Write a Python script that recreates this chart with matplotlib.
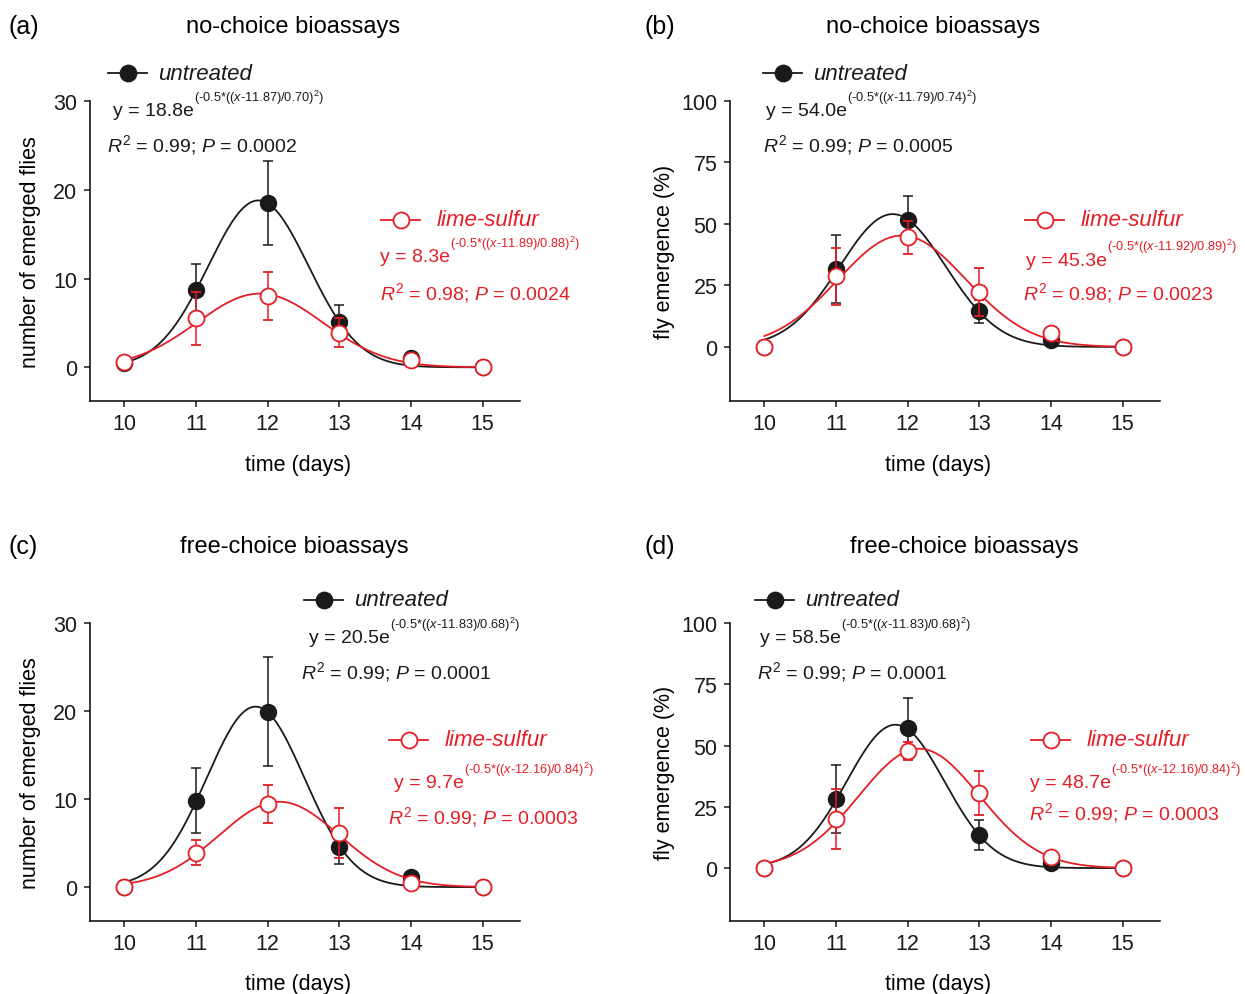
import numpy as np
import matplotlib
matplotlib.use('Agg')
import matplotlib.pyplot as plt
from matplotlib.lines import Line2D

plt.rcParams['font.family'] = ['Liberation Sans', 'DejaVu Sans']
plt.rcParams['mathtext.fontset'] = 'custom'
plt.rcParams['mathtext.rm'] = 'Liberation Sans'
plt.rcParams['mathtext.it'] = 'Liberation Sans:italic'
plt.rcParams['mathtext.bf'] = 'Liberation Sans:bold'

days = [10, 11, 12, 13, 14, 15]

# (a) no-choice, number of emerged flies
a_untr = [0.5, 8.7, 18.5, 5.1, 1.0, 0.0]
a_untr_err = [0, 2.9, 4.7, 1.9, 0, 0]
a_lime = [0.6, 5.5, 8.0, 3.9, 0.8, 0.0]
a_lime_err = [0, 3.0, 2.7, 1.6, 0, 0]
a_untr_fit = [18.8, 11.87, 0.70]
a_lime_fit = [8.3, 11.89, 0.88]
a_stats = ['0.99', '0.0002', '0.98', '0.0024']

# (b) no-choice, fly emergence (%)
b_untr = [0.0, 31.7, 51.8, 14.5, 2.8, 0.0]
b_untr_err = [0, 14.0, 9.7, 4.7, 0, 0]
b_lime = [0.0, 28.7, 44.6, 22.2, 5.6, 0.0]
b_lime_err = [0, 11.5, 6.7, 9.8, 0, 0]
b_untr_fit = [54.0, 11.79, 0.74]
b_lime_fit = [45.3, 11.92, 0.89]
b_stats = ['0.99', '0.0005', '0.98', '0.0023']

# (c) free-choice, number of emerged flies
c_untr = [0.0, 9.8, 19.9, 4.6, 1.1, 0.0]
c_untr_err = [0, 3.7, 6.2, 2.0, 0, 0]
c_lime = [0.0, 3.9, 9.4, 6.1, 0.5, 0.0]
c_lime_err = [0, 1.4, 2.15, 2.85, 0, 0]
c_untr_fit = [20.5, 11.83, 0.68]
c_lime_fit = [9.7, 12.16, 0.84]
c_stats = ['0.99', '0.0001', '0.99', '0.0003']

# (d) free-choice, fly emergence (%)
d_untr = [0.0, 28.2, 57.0, 13.6, 2.0, 0.0]
d_untr_err = [0, 14.0, 12.4, 6.2, 0, 0]
d_lime = [0.0, 20.0, 47.6, 30.7, 4.6, 0.0]
d_lime_err = [0, 12.3, 3.7, 9.0, 0, 0]
d_untr_fit = [58.5, 11.83, 0.68]
d_lime_fit = [48.7, 12.16, 0.84]
d_stats = ['0.99', '0.0001', '0.99', '0.0003']

BLACK = '#1a1a1a'
RED = '#e41e26'
W, H = 1245, 995

fig = plt.figure(figsize=(W / 100, H / 100), dpi=100)


def fx(x):
    return x / W


def fy(y):
    return 1 - y / H


def gauss(p, xs):
    return p[0] * np.exp(-0.5 * ((xs - p[1]) / p[2]) ** 2)


def legend_entry(x0, y, text, color, filled, gap=50):
    fc = color if filled else 'white'
    fig.add_artist(Line2D([fx(x0), fx(x0 + 19.5), fx(x0 + 39)], [fy(y)] * 3,
                          color=color, lw=1.3, marker='o', markevery=[1],
                          ms=11.5, mfc=fc, mec=color, mew=1.3))
    fig.text(fx(x0 + gap), fy(y), text, color=color, style='italic',
             fontsize=16, va='center', ha='left')


def equation(x, y, p, color):
    t = fig.text(fx(x), fy(y), 'y = %.1fe' % p[0], color=color, fontsize=14,
                 va='center', ha='left')
    sup = r'(-0.5*(($\mathit{x}$-%.2f)/%.2f)$^{2}$)' % (p[1], p[2])
    plt.annotate(sup, xy=(1, 0), xycoords=t, xytext=(0, 13),
                 textcoords='offset points', color=color, fontsize=9.2,
                 va='baseline', ha='left')


def stats_line(x, y, r2, pv, color):
    fig.text(fx(x), fy(y), r'$\mathit{R}^{2}$ = %s; $\mathit{P}$ = %s' % (r2, pv),
             color=color, fontsize=14, va='center', ha='left')


def panel(rect, untr, untr_err, lime, lime_err, untr_fit, lime_fit,
          yticks, ylim, ylabel, ylab_x):
    ax = fig.add_axes(rect)
    xs = np.linspace(10, 15, 300)
    ax.plot(xs, gauss(untr_fit, xs), color=BLACK, lw=1.3, zorder=2)
    ax.errorbar(days, untr, yerr=untr_err, fmt='o', color=BLACK, ms=11.5,
                mfc=BLACK, mec=BLACK, elinewidth=1.1, capsize=3.6,
                capthick=1.1, zorder=3)
    ax.plot(xs, gauss(lime_fit, xs), color=RED, lw=1.3, zorder=4)
    ax.errorbar(days, lime, yerr=lime_err, fmt='o', color=RED, ms=11.5,
                mfc='white', mec=RED, mew=1.3, elinewidth=1.1, capsize=3.6,
                capthick=1.1, zorder=5)
    ax.set_xlim(9.52, 15.52)
    ax.set_ylim(*ylim)
    ax.set_xticks(days)
    ax.set_yticks(yticks)
    for s in ['top', 'right']:
        ax.spines[s].set_visible(False)
    for s in ['left', 'bottom']:
        ax.spines[s].set_linewidth(1.1)
    ax.spines['left'].set_bounds(ylim[0], yticks[-1])
    ax.tick_params(direction='out', length=4, width=1.1, labelsize=15.5,
                   pad=5, colors=BLACK)
    ax.set_xlabel('time (days)', fontsize=15.5)
    ax.set_ylabel(ylabel, fontsize=15.5)
    ax.xaxis.set_label_coords(0.485, -0.175)
    ax.yaxis.set_label_coords(ylab_x, 0.5)
    return ax


# (a)
panel([fx(90), fy(402), 430 / W, 300 / H], a_untr, a_untr_err, a_lime, a_lime_err,
      a_untr_fit, a_lime_fit, [0, 10, 20, 30], (-3.8, 30),
      'number of emerged flies', -0.113)
# (b)
panel([fx(730), fy(402), 430 / W, 300 / H], b_untr, b_untr_err, b_lime, b_lime_err,
      b_untr_fit, b_lime_fit, [0, 25, 50, 75, 100], (-22, 100),
      'fly emergence (%)', -0.128)
# (c)
panel([fx(90), fy(922), 430 / W, 298 / H], c_untr, c_untr_err, c_lime, c_lime_err,
      c_untr_fit, c_lime_fit, [0, 10, 20, 30], (-3.85, 30),
      'number of emerged flies', -0.113)
# (d)
panel([fx(730), fy(922), 430 / W, 298 / H], d_untr, d_untr_err, d_lime, d_lime_err,
      d_untr_fit, d_lime_fit, [0, 25, 50, 75, 100], (-21.6, 100),
      'fly emergence (%)', -0.128)

# titles and panel letters
for lab, lx, tx, ty, title in [('(a)', 9, 293, 27, 'no-choice bioassays'),
                               ('(b)', 644, 933, 27, 'no-choice bioassays'),
                               ('(c)', 9, 294, 547, 'free-choice bioassays'),
                               ('(d)', 644, 964, 547, 'free-choice bioassays')]:
    fig.text(fx(lx), fy(ty), lab, fontsize=18, va='center', ha='left')
    fig.text(fx(tx), fy(ty), title, fontsize=17, va='center', ha='center')

# (a) annotations
legend_entry(108, 74, 'untreated', BLACK, True)
equation(113, 112, a_untr_fit, BLACK)
stats_line(107, 145, a_stats[0], a_stats[1], BLACK)
legend_entry(381, 221, 'lime-sulfur', RED, False, gap=56)
equation(380, 258, a_lime_fit, RED)
stats_line(380, 293, a_stats[2], a_stats[3], RED)

# (b) annotations
legend_entry(763, 74, 'untreated', BLACK, True)
equation(766, 112, b_untr_fit, BLACK)
stats_line(763, 145, b_stats[0], b_stats[1], BLACK)
legend_entry(1025, 221, 'lime-sulfur', RED, False, gap=56)
equation(1026, 261, b_lime_fit, RED)
stats_line(1023, 293, b_stats[2], b_stats[3], RED)

# (c) annotations
legend_entry(304, 601, 'untreated', BLACK, True)
equation(309, 639, c_untr_fit, BLACK)
stats_line(301, 672, c_stats[0], c_stats[1], BLACK)
legend_entry(389, 741, 'lime-sulfur', RED, False, gap=56)
equation(394, 784, c_lime_fit, RED)
stats_line(388, 817, c_stats[2], c_stats[3], RED)

# (d) annotations
legend_entry(755, 601, 'untreated', BLACK, True)
equation(760, 639, d_untr_fit, BLACK)
stats_line(757, 672, d_stats[0], d_stats[1], BLACK)
legend_entry(1031, 741, 'lime-sulfur', RED, False, gap=56)
equation(1030, 784, d_lime_fit, RED)
stats_line(1029, 813, d_stats[2], d_stats[3], RED)

fig.savefig('out.png', dpi=100)
